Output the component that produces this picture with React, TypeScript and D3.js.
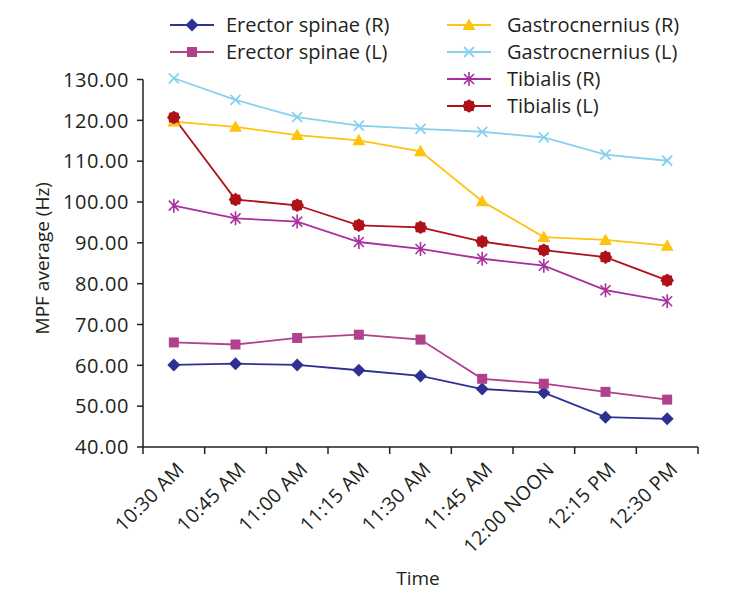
import React from "react";
import * as d3 from "d3";

const categories = ["10:30 AM", "10:45 AM", "11:00 AM", "11:15 AM", "11:30 AM", "11:45 AM", "12:00 NOON", "12:15 PM", "12:30 PM"];
const yTicks = [40, 50, 60, 70, 80, 90, 100, 110, 120, 130];

const erectorR = [60.1, 60.4, 60.1, 58.8, 57.4, 54.2, 53.3, 47.3, 46.9];
const erectorL = [65.6, 65.1, 66.7, 67.5, 66.3, 56.7, 55.5, 53.5, 51.6];
const gastroR = [119.7, 118.4, 116.4, 115.1, 112.4, 100.2, 91.4, 90.7, 89.3];
const gastroL = [130.3, 125.0, 120.8, 118.7, 117.9, 117.2, 115.8, 111.6, 110.1];
const tibialisR = [99.1, 96.0, 95.2, 90.2, 88.5, 86.1, 84.4, 78.4, 75.7];
const tibialisL = [120.7, 100.6, 99.2, 94.3, 93.8, 90.3, 88.2, 86.5, 80.8];

const seriesNames = ["Erector spinae (R)", "Erector spinae (L)", "Gastrocnernius (R)", "Gastrocnernius (L)", "Tibialis (R)", "Tibialis (L)"];
const seriesValues = [erectorR, erectorL, gastroR, gastroL, tibialisR, tibialisL];
const seriesColors = ["#2E3192", "#B0428C", "#FFC20E", "#88D0EE", "#A8309E", "#AE1118"];
const seriesMarkers = ["diamond", "square", "triangle", "x", "asterisk", "burst"];

const FONT = "'Open Sans', sans-serif";
const TEXT = "#231F20";

function Marker({ type, x, y, color }: { type: string; x: number; y: number; color: string }) {
  if (type === "diamond") {
    return <path d={`M${x},${y - 6.5}L${x + 6.5},${y}L${x},${y + 6.5}L${x - 6.5},${y}Z`} fill={color} />;
  }
  if (type === "square") {
    return <rect x={x - 5} y={y - 5} width={10} height={10} fill={color} />;
  }
  if (type === "triangle") {
    return <path d={`M${x},${y - 6.5}L${x + 6.5},${y + 5}L${x - 6.5},${y + 5}Z`} fill={color} />;
  }
  if (type === "x") {
    return (
      <path d={`M${x - 5},${y - 5}L${x + 5},${y + 5}M${x - 5},${y + 5}L${x + 5},${y - 5}`} stroke={color} strokeWidth={1.8} fill="none" />
    );
  }
  if (type === "asterisk") {
    return (
      <path
        d={`M${x - 5},${y - 5}L${x + 5},${y + 5}M${x - 5},${y + 5}L${x + 5},${y - 5}M${x},${y - 7}L${x},${y + 7}`}
        stroke={color}
        strokeWidth={1.6}
        fill="none"
      />
    );
  }
  const pts: string[] = [];
  const n = 16;
  for (let i = 0; i < n; i++) {
    const a = (i / n) * Math.PI * 2;
    const r = i % 2 === 0 ? 6.8 : 5.6;
    pts.push(`${x + r * Math.cos(a)},${y + r * Math.sin(a)}`);
  }
  return <polygon points={pts.join(" ")} fill={color} />;
}

export default function App() {
  const width = 750;
  const height = 593;
  const left = 143;
  const right = 698;
  const top = 79.5;
  const bottom = 447;

  const x = d3.scaleBand<string>().domain(categories).range([left, right]);
  const y = d3.scaleLinear().domain([40, 130]).range([bottom, top]);
  const cx = (c: string) => (x(c) as number) + x.bandwidth() / 2;

  const line = d3
    .line<number>()
    .x((_, i) => cx(categories[i]))
    .y((d) => y(d));

  const boundaries = categories.map((c) => x(c) as number).concat([right]);

  const legendCols = [
    { lineX: 170, textX: 226 },
    { lineX: 447, textX: 507 },
  ];
  const legendRows = [25, 52, 79, 106];
  const legendPos = [
    [0, 0],
    [0, 1],
    [1, 0],
    [1, 1],
    [1, 2],
    [1, 3],
  ];

  return (
    <svg width={width} height={height} style={{ position: "absolute", left: 0, top: 0, background: "#fff" }}>
      {seriesValues.map((vals, si) => (
        <path key={"l" + si} d={line(vals) || ""} fill="none" stroke={seriesColors[si]} strokeWidth={1.8} />
      ))}
      {seriesValues.map((vals, si) =>
        vals.map((v, i) => (
          <Marker key={`m${si}-${i}`} type={seriesMarkers[si]} x={cx(categories[i])} y={y(v)} color={seriesColors[si]} />
        ))
      )}

      {/* y axis */}
      <line x1={left} x2={left} y1={top} y2={bottom} stroke={TEXT} strokeWidth={1.5} />
      {yTicks.map((t) => (
        <g key={"yt" + t}>
          <line x1={left - 6} x2={left} y1={y(t)} y2={y(t)} stroke={TEXT} strokeWidth={1.5} />
          <text x={left - 14} y={y(t)} dy="0.36em" textAnchor="end" fontFamily={FONT} fontSize={20} letterSpacing={0.6} fill={TEXT}>
            {t.toFixed(2)}
          </text>
        </g>
      ))}
      <text
        transform={`translate(42,${(top + bottom) / 2 - 5}) rotate(-90)`}
        textAnchor="middle"
        dy="0.36em"
        fontFamily={FONT}
        fontSize={19}
        fill={TEXT}
      >
        MPF average (Hz)
      </text>

      {/* x axis */}
      <line x1={left} x2={right} y1={bottom} y2={bottom} stroke={TEXT} strokeWidth={1.5} />
      {boundaries.map((b, i) => (
        <line key={"xt" + i} x1={b} x2={b} y1={bottom} y2={bottom + 7} stroke={TEXT} strokeWidth={1.5} />
      ))}
      {categories.map((c) => (
        <text
          key={"xl" + c}
          transform={`translate(${cx(c) + 2},${bottom + 14}) rotate(-45)`}
          textAnchor="end"
          dy="0.7em"
          fontFamily={FONT}
          fontSize={19.5}
          letterSpacing={0.4}
          fill={TEXT}
        >
          {c}
        </text>
      ))}
      <text x={418} y={578} dy="0.36em" textAnchor="middle" fontFamily={FONT} fontSize={19} fill={TEXT}>
        Time
      </text>

      {/* legend */}
      {seriesNames.map((name, si) => {
        const [col, row] = legendPos[si];
        const lc = legendCols[col];
        const ly = legendRows[row];
        return (
          <g key={"lg" + si}>
            <line x1={lc.lineX} x2={lc.lineX + 44} y1={ly} y2={ly} stroke={seriesColors[si]} strokeWidth={1.8} />
            <Marker type={seriesMarkers[si]} x={lc.lineX + 22} y={ly} color={seriesColors[si]} />
            <text x={lc.textX} y={ly} dy="0.36em" fontFamily={FONT} fontSize={20} fill={TEXT}>
              {name}
            </text>
          </g>
        );
      })}
    </svg>
  );
}
